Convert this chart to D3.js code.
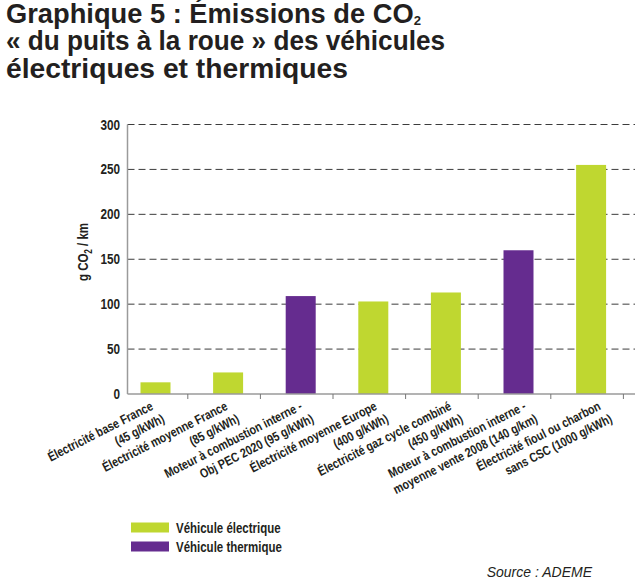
<!DOCTYPE html>
<html>
<head>
<meta charset="utf-8">
<script src="https://cdn.jsdelivr.net/npm/d3@7"></script>
<style>
  html, body { margin: 0; padding: 0; background: #fff; }
  svg { display: block; }
  .narrow { font-family: "Liberation Sans", Arial, sans-serif; font-weight: bold; fill: #231f20; }
</style>
</head>
<body>
<svg id="chart" width="640" height="583"></svg>
<script>
const categories = [
  ["Électricité base France", "(45 g/kWh)"],
  ["Électricité moyenne France", "(85 g/kWh)"],
  ["Moteur à combustion interne -", "Obj PEC 2020 (95 g/kWh)"],
  ["Électricité moyenne Europe", "(400 g/kWh)"],
  ["Électricité gaz cycle combiné", "(450 g/kWh)"],
  ["Moteur à combustion interne -", "moyenne vente 2008 (140 g/km)"],
  ["Électricité fioul ou charbon", "sans CSC (1000 g/kWh)"]
];
const values = [13, 24, 109, 103, 113, 160, 255];
const types = ["elec", "elec", "therm", "elec", "elec", "therm", "elec"];
const yTicks = [0, 50, 100, 150, 200, 250, 300];
const seriesNames = ["Véhicule électrique", "Véhicule thermique"];
const seriesKeys = ["elec", "therm"];
const titleLines = ["Graphique 5 : Émissions de CO", "« du puits à la roue » des véhicules", "électriques et thermiques"];
const titleSub = ["2", "", ""];
const colors = { elec: "#bfd730", therm: "#652c8f" };

const svg = d3.select("#chart");
const NS = 0.82; // horizontal squeeze to imitate a narrow bold face

// Title
const titleY = [22.5, 50, 77.5];
const titleW = [415, 439, 342];
const tt = svg.append("g").selectAll("text")
  .data(titleLines)
  .join("text")
  .attr("font-family", "'Liberation Sans', Arial, sans-serif")
  .attr("font-weight", "bold")
  .attr("font-size", 27)
  .attr("fill", "#231f20")
  .attr("x", 6)
  .attr("y", (d, i) => titleY[i])
  .attr("textLength", (d, i) => titleW[i])
  .attr("lengthAdjust", "spacingAndGlyphs");
tt.append("tspan").text(d => d);
tt.filter((d, i) => titleSub[i] !== "")
  .append("tspan")
  .attr("font-size", 13)
  .attr("dy", 2.5)
  .text((d, i) => titleSub[0]);

const plotLeft = 127.5, plotRight = 635;
const y = d3.scaleLinear().domain([0, 300]).range([394, 124.5]);
const idx = categories.map((d, i) => i);
const x = d3.scaleBand().domain(idx).range([119.2, 627.4]).padding(0);
const barW = 30;

// Grid lines
svg.append("g").selectAll("line")
  .data(yTicks.filter(d => d > 0))
  .join("line")
  .attr("x1", plotLeft).attr("x2", plotRight)
  .attr("y1", d => y(d)).attr("y2", d => y(d))
  .attr("stroke", "#3c3c3c")
  .attr("stroke-width", 1)
  .attr("stroke-dasharray", "7,4");

// Bars
svg.append("g").selectAll("rect")
  .data(values)
  .join("rect")
  .attr("x", (d, i) => x(i) + x.bandwidth() / 2 - barW / 2)
  .attr("width", barW)
  .attr("y", d => y(d))
  .attr("height", d => y(0) - y(d))
  .attr("fill", (d, i) => colors[types[i]]);

// Y axis line
svg.append("line")
  .attr("x1", plotLeft).attr("x2", plotLeft)
  .attr("y1", y(300)).attr("y2", y(0))
  .attr("stroke", "#9a9a9a").attr("stroke-width", 1.5);

// Y tick labels
svg.append("g").selectAll("text")
  .data(yTicks)
  .join("text")
  .attr("class", "narrow")
  .attr("font-size", 14)
  .attr("text-anchor", "end")
  .attr("transform", d => `translate(120,${y(d) + 5}) scale(0.84,1)`)
  .text(d => d);

// X axis line
svg.append("line")
  .attr("x1", plotLeft).attr("x2", plotRight)
  .attr("y1", y(0)).attr("y2", y(0))
  .attr("stroke", "#9a9a9a").attr("stroke-width", 1.5);

// x ticks at band edges
svg.append("g").selectAll("line")
  .data(idx)
  .join("line")
  .attr("x1", d => x(d) + x.bandwidth() - 4)
  .attr("x2", d => x(d) + x.bandwidth() - 4)
  .attr("y1", y(0)).attr("y2", y(0) + 5)
  .attr("stroke", "#777").attr("stroke-width", 1);

// X labels
const lbl = svg.append("g").selectAll("text")
  .data(categories)
  .join("text")
  .attr("class", "narrow")
  .attr("font-size", 13)
  .attr("text-anchor", "end")
  .attr("transform", (d, i) => `translate(${x(i) + x.bandwidth() / 2 - 1.5 + 2 * i},${y(0) + 15}) rotate(-27) scale(${NS},1)`);
lbl.append("tspan").attr("x", 0).attr("y", 0).text(d => d[0]);
lbl.append("tspan").attr("x", 5.5).attr("y", 16.5).text(d => d[1]);

// Y label
const yl = svg.append("text")
  .attr("class", "narrow")
  .attr("font-size", 14)
  .attr("text-anchor", "middle")
  .attr("transform", `translate(87.5,252) rotate(-90) scale(${NS},1)`);
yl.append("tspan").text("g CO");
yl.append("tspan").attr("font-size", 10).attr("dy", 4).text("2");
yl.append("tspan").attr("dy", -4).text(" / km");

// Legend
const leg = svg.append("g").selectAll("g")
  .data(seriesKeys)
  .join("g")
  .attr("transform", (d, i) => `translate(131,${522.5 + i * 19})`);
leg.append("rect").attr("width", 38).attr("height", 10).attr("fill", d => colors[d]);
leg.append("text")
  .attr("class", "narrow")
  .attr("font-size", 14)
  .attr("transform", `translate(45,10) scale(${NS},1)`)
  .text((d, i) => seriesNames[i]);

// Source
svg.append("text")
  .attr("font-family", "'Liberation Sans', Arial, sans-serif")
  .attr("font-style", "italic")
  .attr("font-size", 14)
  .attr("fill", "#231f20")
  .attr("text-anchor", "end")
  .attr("x", 592).attr("y", 577)
  .text("Source : ADEME");
</script>
</body>
</html>
